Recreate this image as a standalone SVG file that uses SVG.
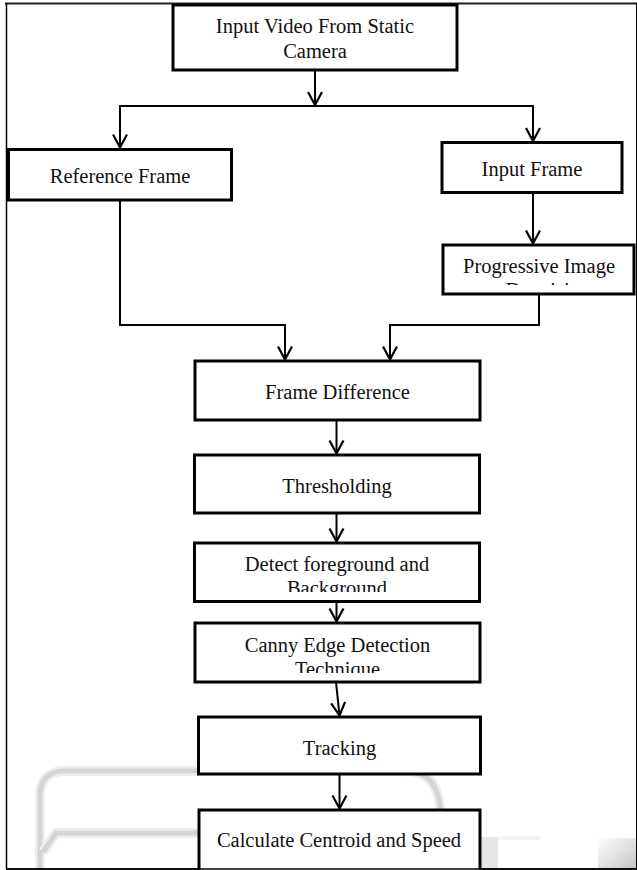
<svg xmlns="http://www.w3.org/2000/svg" width="637" height="870" viewBox="0 0 637 870">
<style>
.box{fill:#fff;stroke:#000;stroke-width:3}
.lbl{font-family:"Liberation Serif","Times New Roman",serif;font-size:20.5px;fill:#111;text-anchor:middle}
.con{fill:none;stroke:#000;stroke-width:2}
.wm{fill:none;stroke:#d4d4d4;stroke-width:5}
.wmh{fill:none;stroke:#eeeeee;stroke-width:10}
</style>
<defs>
<marker id="arr" viewBox="-15 -9 17 18" refX="0" refY="0" markerWidth="17" markerHeight="18" markerUnits="userSpaceOnUse" orient="auto">
<path d="M-13,-7 L0,0 L-13,7" fill="none" stroke="#000" stroke-width="2.2"/>
</marker>
<clipPath id="clipProg"><rect x="444" y="246" width="189" height="39"/></clipPath>
<clipPath id="clipDet"><rect x="196" y="544" width="282" height="48"/></clipPath>
<clipPath id="clipCanny"><rect x="196" y="624" width="282" height="49"/></clipPath>
<linearGradient id="gBR" x1="0" y1="0" x2="1" y2="1">
<stop offset="0" stop-color="#ffffff"/>
<stop offset="1" stop-color="#c4c4c4"/>
</linearGradient>
</defs>
<rect width="637" height="870" fill="#fff"/>
<g id="watermark">
<path class="wmh" d="M40 870 V796 Q40 771 65 771 H405 Q436 771 440 806 V870"/>
<path class="wm" d="M40 870 V796 Q40 771 65 771 H405 Q436 771 440 806 V870"/>
<path class="wmh" d="M43 852 L56 833 H210"/>
<path class="wm" d="M43 852 L56 833 H210"/>
<rect x="480" y="837" width="18" height="32" fill="#e6e6e6"/>
<rect x="498" y="836" width="42" height="4" fill="#f3f3f3"/>
<rect x="598" y="838" width="39" height="31" fill="url(#gBR)"/>
</g>
<g id="frame" fill="none">
<line x1="5" y1="3.5" x2="637" y2="3.5" stroke="#222" stroke-width="2"/>
<line x1="6.5" y1="3" x2="6.5" y2="869" stroke="#000" stroke-width="1.5"/>
<line x1="6" y1="869" x2="637" y2="869" stroke="#000" stroke-width="1.5"/>
<line x1="636.5" y1="3" x2="636.5" y2="869" stroke="#000" stroke-width="1"/>
</g>
<g id="connectors">
<path class="con" d="M315 70 V105" marker-end="url(#arr)"/>
<path class="con" d="M316 106 H120 V147.5" marker-end="url(#arr)"/>
<path class="con" d="M314 106 H533 V141" marker-end="url(#arr)"/>
<path class="con" d="M533 193 V243.5" marker-end="url(#arr)"/>
<path class="con" d="M120 200 V325 H285 V359.5" marker-end="url(#arr)"/>
<path class="con" d="M539 294 V325 H390 V359.5" marker-end="url(#arr)"/>
<path class="con" d="M336.5 420 V453.5" marker-end="url(#arr)"/>
<path class="con" d="M336.5 513 V541.5" marker-end="url(#arr)"/>
<path class="con" d="M336.5 602 V621.5" marker-end="url(#arr)"/>
<path class="con" d="M336 682 L339.5 715.5" marker-end="url(#arr)"/>
<path class="con" d="M339.5 775 V808.5" marker-end="url(#arr)"/>
</g>
<g id="n-input-video">
<rect class="box" x="173" y="5" width="284" height="65"/>
<text class="lbl" x="315" y="33">Input Video From Static</text>
<text class="lbl" x="315" y="58">Camera</text>
</g>
<g id="n-reference-frame">
<rect class="box" x="8.5" y="149.5" width="223" height="50.5"/>
<text class="lbl" x="120" y="183">Reference Frame</text>
</g>
<g id="n-input-frame">
<rect class="box" x="442" y="142.5" width="180" height="50"/>
<text class="lbl" x="532" y="176">Input Frame</text>
</g>
<g id="n-progressive">
<rect class="box" x="443" y="245" width="191" height="49"/>
<g clip-path="url(#clipProg)">
<text class="lbl" x="539" y="272.7">Progressive Image</text>
<text class="lbl" x="548" y="296.5">Denoising</text>
</g>
</g>
<g id="n-frame-difference">
<rect class="box" x="195" y="361" width="285" height="59"/>
<text class="lbl" x="337.5" y="398.5">Frame Difference</text>
</g>
<g id="n-thresholding">
<rect class="box" x="194.5" y="455" width="285" height="58"/>
<text class="lbl" x="337" y="492.7">Thresholding</text>
</g>
<g id="n-detect">
<rect class="box" x="194.5" y="543" width="285" height="58.5"/>
<g clip-path="url(#clipDet)">
<text class="lbl" x="337" y="570.7">Detect foreground and</text>
<text class="lbl" x="337" y="594.5">Background</text>
</g>
</g>
<g id="n-canny">
<rect class="box" x="195" y="623" width="285" height="59"/>
<g clip-path="url(#clipCanny)">
<text class="lbl" x="337.5" y="651.7">Canny Edge Detection</text>
<text class="lbl" x="337.5" y="675.5">Technique</text>
</g>
</g>
<g id="n-tracking">
<rect class="box" x="198.5" y="717" width="282" height="57"/>
<text class="lbl" x="339.5" y="755">Tracking</text>
</g>
<g id="n-calc">
<rect class="box" x="199" y="810" width="281" height="65"/>
<text class="lbl" x="339" y="846.7">Calculate Centroid and Speed</text>
</g>
<line x1="6" y1="869" x2="637" y2="869" stroke="#000" stroke-width="1.5"/>
</svg>
